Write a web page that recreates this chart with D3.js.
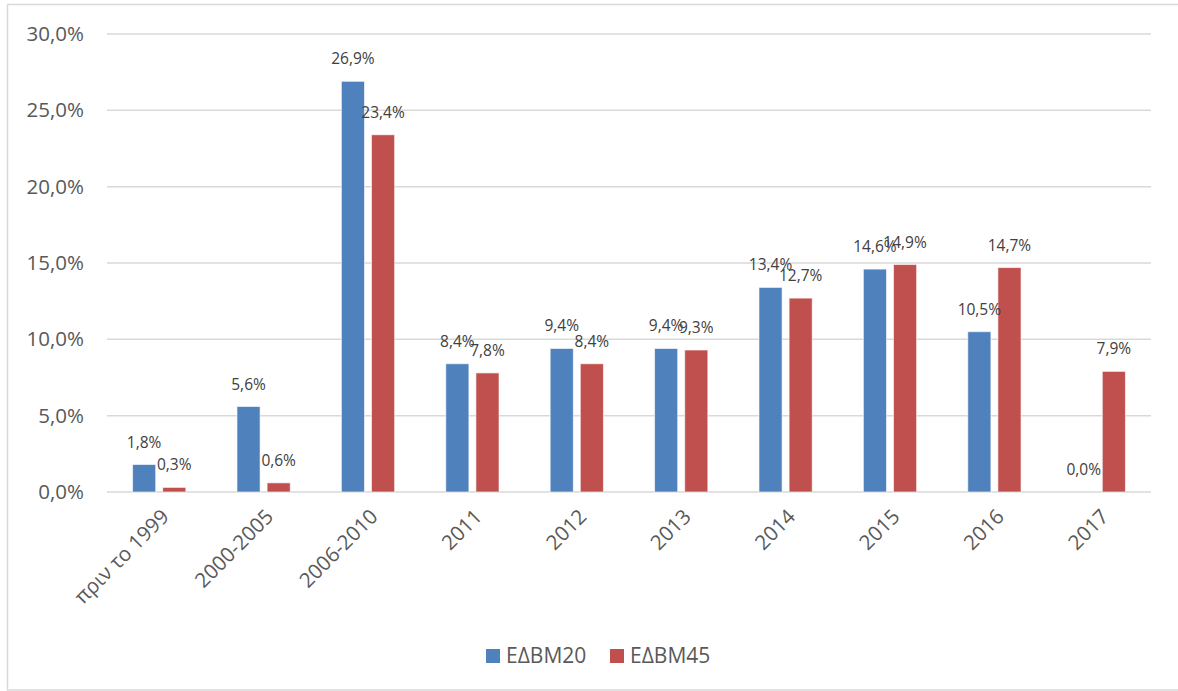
<!DOCTYPE html>
<html><head><meta charset="utf-8">
<script src="https://cdn.jsdelivr.net/npm/d3@7"></script>
<style>body{margin:0;background:#fff}svg{display:block;font-family:"Open Sans","Noto Sans",sans-serif}</style>
</head><body>
<svg id="c" width="1178" height="691"></svg>
<script>
const categories = ["πριν το 1999","2000-2005","2006-2010","2011","2012","2013","2014","2015","2016","2017"];
const seriesNames = ["ΕΔΒΜ20","ΕΔΒΜ45"];
const edbm20 = [1.8,5.6,26.9,8.4,9.4,9.4,13.4,14.6,10.5,0.0];
const edbm45 = [0.3,0.6,23.4,7.8,8.4,9.3,12.7,14.9,14.7,7.9];
const yTicks = [0,5,10,15,20,25,30];
const colors = ["#4F81BD","#C0504D"];

const svg = d3.select("#c");
const fmt = v => v.toFixed(1).replace(".", ",") + "%";

// outer frame
svg.append("rect").attr("x",7.5).attr("y",4.5).attr("width",1200).attr("height",685.5)
  .attr("fill","none").attr("stroke","#d9d9d9").attr("stroke-width",1.5);

const pLeft = 107, pRight = 1151, pTop = 34, pBottom = 492;
const y = d3.scaleLinear().domain([0,30]).range([pBottom, pTop]);
const x0 = d3.scaleBand().domain(categories).range([pLeft,pRight]).paddingInner(0.49).paddingOuter(0.245);
const x1 = d3.scaleBand().domain(seriesNames).range([0,x0.bandwidth()]).paddingInner(0.233);

// gridlines
svg.append("g").selectAll("line").data(yTicks).join("line")
  .attr("x1",pLeft).attr("x2",pRight)
  .attr("y1",d=>y(d)).attr("y2",d=>y(d))
  .attr("stroke","#d9d9d9").attr("stroke-width",1.5);

// y axis labels
const yAxis = d3.axisLeft(y).tickValues(yTicks).tickFormat(fmt).tickSize(0).tickPadding(0);
const ya = svg.append("g").attr("transform",`translate(84,0)`).call(yAxis);
ya.select(".domain").remove();
ya.selectAll("text").attr("fill","#595959").style("font-size","20.5px").style("font-family","'Open Sans',sans-serif");

const data = categories.map((c,i)=>({cat:c, vals:[edbm20[i], edbm45[i]]}));
const groups = svg.append("g").selectAll("g").data(data).join("g")
  .attr("transform",d=>`translate(${x0(d.cat)},0)`);
groups.selectAll("rect").data(d=>d.vals.map((v,j)=>({v, s:seriesNames[j], j}))).join("rect")
  .attr("x",d=>x1(d.s)).attr("width",x1.bandwidth())
  .attr("y",d=>y(d.v)).attr("height",d=>pBottom-y(d.v))
  .attr("fill",d=>colors[d.j])
  .attr("stroke",d=>d.v>0?"rgba(255,255,255,0.6)":"none").attr("stroke-width",1);
groups.selectAll("text").data(d=>d.vals.map((v,j)=>({v, s:seriesNames[j], j}))).join("text")
  .attr("x",d=>x1(d.s)+x1.bandwidth()/2)
  .attr("y",d=>y(d.v)-17)
  .attr("text-anchor","middle")
  .attr("fill","#404040").style("font-size","15.5px")
  .text(d=>fmt(d.v));

// x axis labels
const xAxis = d3.axisBottom(x0).tickSize(0).tickPadding(0);
const xa = svg.append("g").attr("transform",`translate(0,${pBottom})`).call(xAxis);
xa.select(".domain").remove();
xa.selectAll("text")
  .attr("text-anchor","end").attr("dy",null).attr("y",0).attr("x",0)
  .attr("transform","translate(11,26) rotate(-45)")
  .attr("fill","#595959").style("font-size","20.5px").style("font-family","'Open Sans',sans-serif");

// legend
const lg = svg.append("g").attr("transform","translate(486,649)");
const items = lg.selectAll("g").data(seriesNames).join("g")
  .attr("transform",(d,i)=>`translate(${i*124},0)`);
items.append("rect").attr("width",14).attr("height",14).attr("fill",(d,i)=>colors[i]);
items.append("text").attr("x",20).attr("y",7).attr("dy","0.35em")
  .attr("fill","#595959").style("font-size","21px").text(d=>d);
</script>
</body></html>
